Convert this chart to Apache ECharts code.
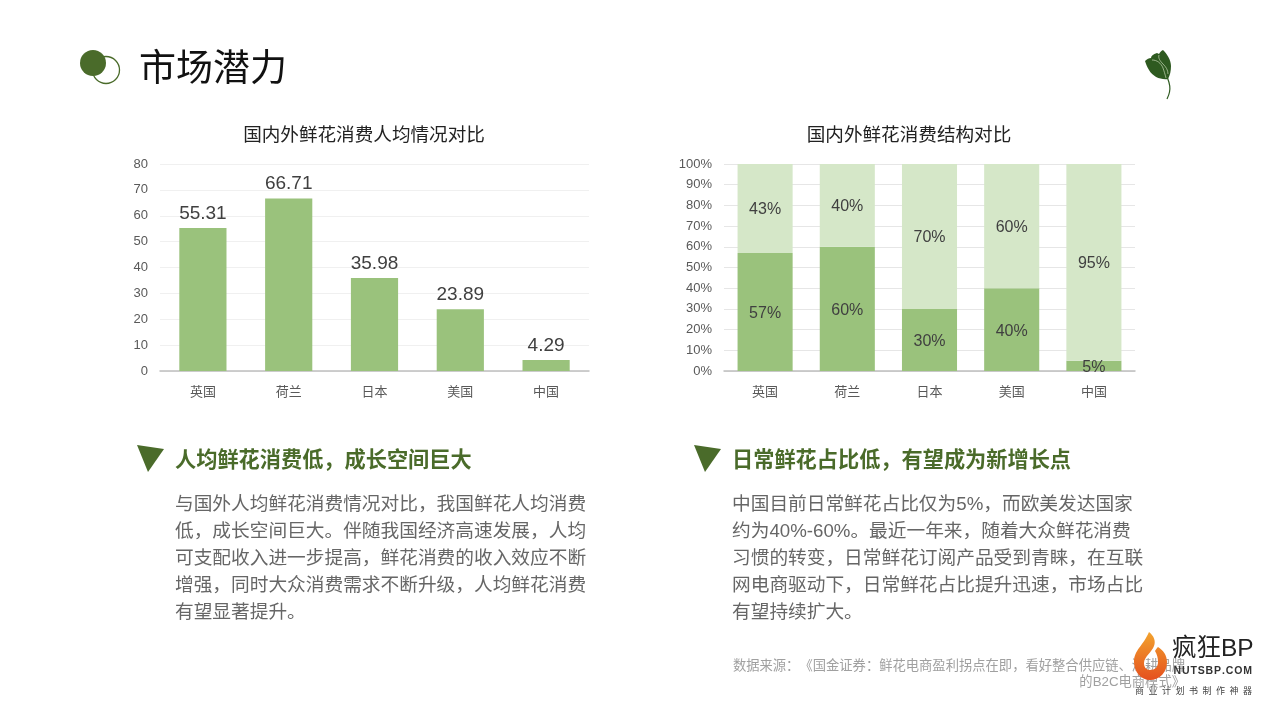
<!DOCTYPE html>
<html><head><meta charset="utf-8">
<style>html,body{margin:0;padding:0;background:#fff}#c{width:1280px;height:720px}</style>
<script src="https://cdn.jsdelivr.net/npm/echarts@6/dist/echarts.min.js"></script>
</head><body><div id="c"></div>
<script>
const countries = ['英国','荷兰','日本','美国','中国'];
const perCapita = [55.31,66.71,35.98,23.89,4.29];
const dailyShare = [57,60,30,40,5];
const otherShare = [43,40,70,60,95];
const pageTitle = '市场潜力';
const chartTitleL = '国内外鲜花消费人均情况对比';
const chartTitleR = '国内外鲜花消费结构对比';
const headL = '人均鲜花消费低，成长空间巨大';
const headR = '日常鲜花占比低，有望成为新增长点';
const bodyL = ['与国外人均鲜花消费情况对比，我国鲜花人均消费','低，成长空间巨大。伴随我国经济高速发展，人均','可支配收入进一步提高，鲜花消费的收入效应不断','增强，同时大众消费需求不断升级，人均鲜花消费','有望显著提升。'];
const bodyR = ['中国目前日常鲜花占比仅为5%，而欧美发达国家','约为40%-60%。最近一年来，随着大众鲜花消费','习惯的转变，日常鲜花订阅产品受到青睐，在互联','网电商驱动下，日常鲜花占比提升迅速，市场占比','有望持续扩大。'];
const source1 = '数据来源：\u200b《\u200b国金证券：鲜花电商盈利拐点在即，看好整合供应链、深耕品牌';
const source2 = '的B2C电商模式》';

const FF = '"Liberation Sans","Noto Sans CJK SC",sans-serif';
const GREEN='#9ac27c', LIGHT='#d5e7c8', DARK='#4a6b2a', LEAF='#2e5a20';
const txt=(x,y,text,size,fill,extra={},weight='normal')=>({type:'text',x,y,z:10,style:Object.assign({text,fill,font:`${weight} ${size}px ${FF}`,textVerticalAlign:'middle',textBaseline:'middle'},extra)});
const tri=(x)=>({type:'polygon',z:10,shape:{points:[[x,445],[x+27,449],[x+11,472]]},style:{fill:DARK}});
const reg=(name,d)=>echarts.graphic.registerShape(name,echarts.graphic.extendPath(d,{}));
reg('bud','M1145 61 C1147 59 1149 58 1151 58 C1151 56 1153 54 1157 53 L1159 54 C1160 52 1161 51 1163 50 C1167 54 1171 60 1171 66 C1171 71 1170 75 1168 79 C1161 80 1153 77 1149 70 C1147 67 1146 64 1145 61 Z');
reg('vein1','M1152 60 C1157 60 1161 63 1163 68 C1164 71 1165 74 1166 78');
reg('vein2','M1159 55 C1158 58 1160 61 1163 64 C1166 67 1168 70 1168 74');
reg('stem','M1167.5 78 C1169.5 83 1170.5 88 1169.5 92 C1169 95 1168 97 1167 99');
reg('flame','M1149 632 C1154 636 1156 641 1154 646 C1152 652 1144 657 1144 663 C1144 667 1146 670 1150 670 C1155 670 1158 667 1158 662 C1158 658 1157 654 1155 651 C1156 649 1157 648 1158 647 C1163 650 1167 655 1167 662 C1167 672 1160 680 1150 680 C1141 680 1134 672 1134 662 C1134 650 1143 646 1149 632 Z');

const axisCommon={axisTick:{show:false},axisLine:{lineStyle:{color:'#bfbfbf',width:1.5}},axisLabel:{color:'#595959',fontSize:13,margin:15,fontFamily:FF}};
const valLabel={color:'#595959',fontSize:13,margin:12,fontFamily:FF,padding:[4,0,0,0]};
const inLabel={show:true,position:'inside',offset:[0,1.5],color:'#404040',fontSize:16,fontFamily:FF,formatter:'{c}%'};

const chart=echarts.init(document.getElementById('c'));
chart.setOption({
 animation:false,backgroundColor:'#fff',
 grid:[{left:160,top:164,width:429,height:207},{left:724,top:164,width:411,height:207}],
 xAxis:[
  Object.assign({type:'category',gridIndex:0,data:countries},axisCommon),
  Object.assign({type:'category',gridIndex:1,data:countries},axisCommon)],
 yAxis:[
  {type:'value',gridIndex:0,min:0,max:80,interval:10,axisLine:{show:false},axisTick:{show:false},axisLabel:valLabel,splitLine:{lineStyle:{color:'#f0f0f0'}}},
  {type:'value',gridIndex:1,min:0,max:100,interval:10,axisLine:{show:false},axisTick:{show:false},axisLabel:Object.assign({formatter:'{value}%'},valLabel),splitLine:{lineStyle:{color:'#e6e6e6'}}}],
 series:[
  {type:'bar',xAxisIndex:0,yAxisIndex:0,data:perCapita,barWidth:'55%',itemStyle:{color:GREEN},
   label:{show:true,position:'top',distance:5,color:'#404040',fontSize:19,fontFamily:FF,formatter:p=>p.value.toFixed(2)}},
  {type:'bar',stack:'s',xAxisIndex:1,yAxisIndex:1,data:dailyShare,barWidth:'67%',itemStyle:{color:GREEN},label:inLabel},
  {type:'bar',stack:'s',xAxisIndex:1,yAxisIndex:1,data:otherShare,barWidth:'67%',itemStyle:{color:LIGHT},label:inLabel}
 ],
 graphic:{elements:[
  {type:'circle',z:9,shape:{cx:106,cy:70,r:13.5},style:{fill:'#fff',stroke:DARK,lineWidth:1.3}},
  {type:'circle',z:10,shape:{cx:93,cy:63,r:13},style:{fill:DARK}},
  txt(139,71,pageTitle,37,'#111'),
  txt(364,136,chartTitleL,18.6,'#222',{textAlign:'center'}),
  txt(909,136,chartTitleR,18.6,'#222',{textAlign:'center'}),
  tri(137),tri(694),
  txt(175,461,headL,21.2,DARK,{},'bold'),
  txt(732,461,headR,21.2,DARK,{},'bold'),
  txt(175,505,bodyL[0],18.7,'#666'),txt(175,532,bodyL[1],18.7,'#666'),txt(175,559,bodyL[2],18.7,'#666'),txt(175,586,bodyL[3],18.7,'#666'),txt(175,613,bodyL[4],18.7,'#666'),
  txt(732,505,bodyR[0],18.7,'#666'),txt(732,532,bodyR[1],18.7,'#666'),txt(732,559,bodyR[2],18.7,'#666'),txt(732,586,bodyR[3],18.7,'#666'),txt(732,613,bodyR[4],18.7,'#666'),
  txt(1185,666,source1,13.3,'#a0a0a0',{textAlign:'right'}),
  txt(1185,682,source2,13.3,'#a0a0a0',{textAlign:'right'}),
  {type:'bud',z:11,style:{fill:LEAF}},
  {type:'vein1',z:12,style:{fill:'none',stroke:'#c8d8b8',lineWidth:0.7}},
  {type:'vein2',z:12,style:{fill:'none',stroke:'#c8d8b8',lineWidth:0.7}},
  {type:'stem',z:11,style:{fill:'none',stroke:LEAF,lineWidth:1.2}},
  {type:'flame',z:12,style:{fill:new echarts.graphic.LinearGradient(0,0,0,1,[{offset:0,color:'#f2a32e'},{offset:1,color:'#e5501e'}])}},
  Object.assign(txt(1172,649,'疯狂BP',24.5,'#222'),{z:13}),
  Object.assign(txt(1252,671,'N\u200aU\u200aT\u200aS\u200aB\u200aP\u200a.\u200aC\u200aO\u200aM',10.5,'#333',{textAlign:'right'},'bold'),{z:13}),
  Object.assign(txt(1252,692,'商\u2002业\u2002计\u2002划\u2002书\u2002制\u2002作\u2002神\u2002器',9,'#444',{textAlign:'right'}),{z:13})
 ]}
});
</script></body></html>
